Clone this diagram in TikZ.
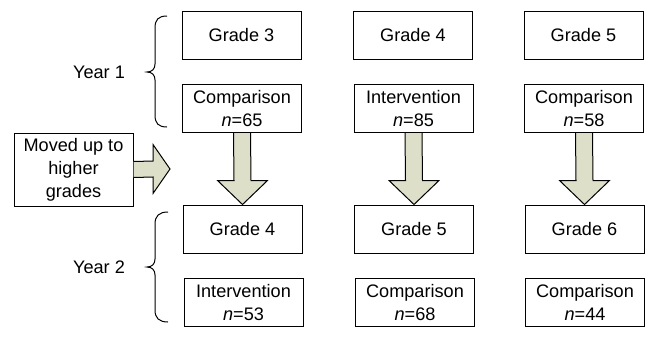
\documentclass[tikz,border=0pt]{standalone}
\usepackage{fontspec}
\setmainfont{Liberation Sans}
\usetikzlibrary{calc}
\definecolor{arrowgreen}{RGB}{221,223,201}
\newcommand{\dnarrow}[2]{%
  \draw[arrowpoly] ($(#1.south)+(-8.5,0)$) -- ($(#2.north)+(-8.5,-24)$) -- ($(#2.north)+(-25,-24)$) -- (#2.north) -- ($(#2.north)+(25,-24)$) -- ($(#2.north)+(8.5,-24)$) -- ($(#1.south)+(8.5,0)$);}
\begin{document}
\begin{tikzpicture}[x=0.75pt,y=-0.75pt,
  box/.style={draw=black,line width=0.75pt,minimum width=89.25pt,minimum height=36pt,inner sep=0pt,align=center,font=\fontsize{13.6}{17.2}\selectfont},
  arrowpoly/.style={draw=black,line width=0.75pt,fill=arrowgreen,line join=miter},
  bracestyle/.style={draw=black,line width=0.75pt},
  lbl/.style={font=\fontsize{13.6}{17.2}\selectfont,inner sep=0pt}]
\useasboundingbox (0,0) rectangle (653,340);
% Year 1
\node[box] (g3) at (241.5,35) {Grade 3};
\node[box] (c65) at (242,108.5) {Comparison\\\textit{n}=65};
\node[box] (g4a) at (413,35) {Grade 4};
\node[box] (i85) at (413.5,108.5) {Intervention\\\textit{n}=85};
\node[box] (g5a) at (583.5,35) {Grade 5};
\node[box] (c58) at (584,108.5) {Comparison\\\textit{n}=58};
% Year 2
\node[box] (g4b) at (242.5,229) {Grade 4};
\node[box] (i53) at (243.5,302.5) {Intervention\\\textit{n}=53};
\node[box] (g5b) at (414,229) {Grade 5};
\node[box] (c68) at (415,302.5) {Comparison\\\textit{n}=68};
\node[box] (g6) at (584.5,229) {Grade 6};
\node[box] (c44) at (585,302.5) {Comparison\\\textit{n}=44};
% moved box
\node[box,minimum height=54.75pt] (moved) at (73.5,169.5) {Moved up to\\higher\\grades};
% down arrows
\dnarrow{c65}{g4b}
\dnarrow{i85}{g5b}
\dnarrow{c58}{g6}
% right arrow
\coordinate (rtip) at (170,169);
\draw[arrowpoly] ($(moved.east)+(0,-8)$) -- ($(rtip)+(-17,-8)$) -- ($(rtip)+(-17,-24.5)$) -- (rtip) -- ($(rtip)+(-17,24.5)$) -- ($(rtip)+(-17,8)$) -- ($(moved.east)+(0,8)$);
% braces
\draw[bracestyle] (167,16) .. controls (158,16) and (155,20) .. (155,28) -- (155,64) .. controls (155,69) and (152,72) .. (147,72) .. controls (152,72) and (155,75) .. (155,80) -- (155,115) .. controls (155,123) and (158,127) .. (167,127);
\draw[bracestyle] (168,212) .. controls (159,212) and (155,216) .. (155,224) -- (155,259) .. controls (155,264) and (152,267) .. (147,267) .. controls (152,267) and (155,270) .. (155,275) -- (155,310) .. controls (155,318) and (159,322) .. (168,322);
\node[lbl] (y1) at (99,72) {Year 1};
\node[lbl] (y2) at (99,267) {Year 2};
\end{tikzpicture}
\end{document}
